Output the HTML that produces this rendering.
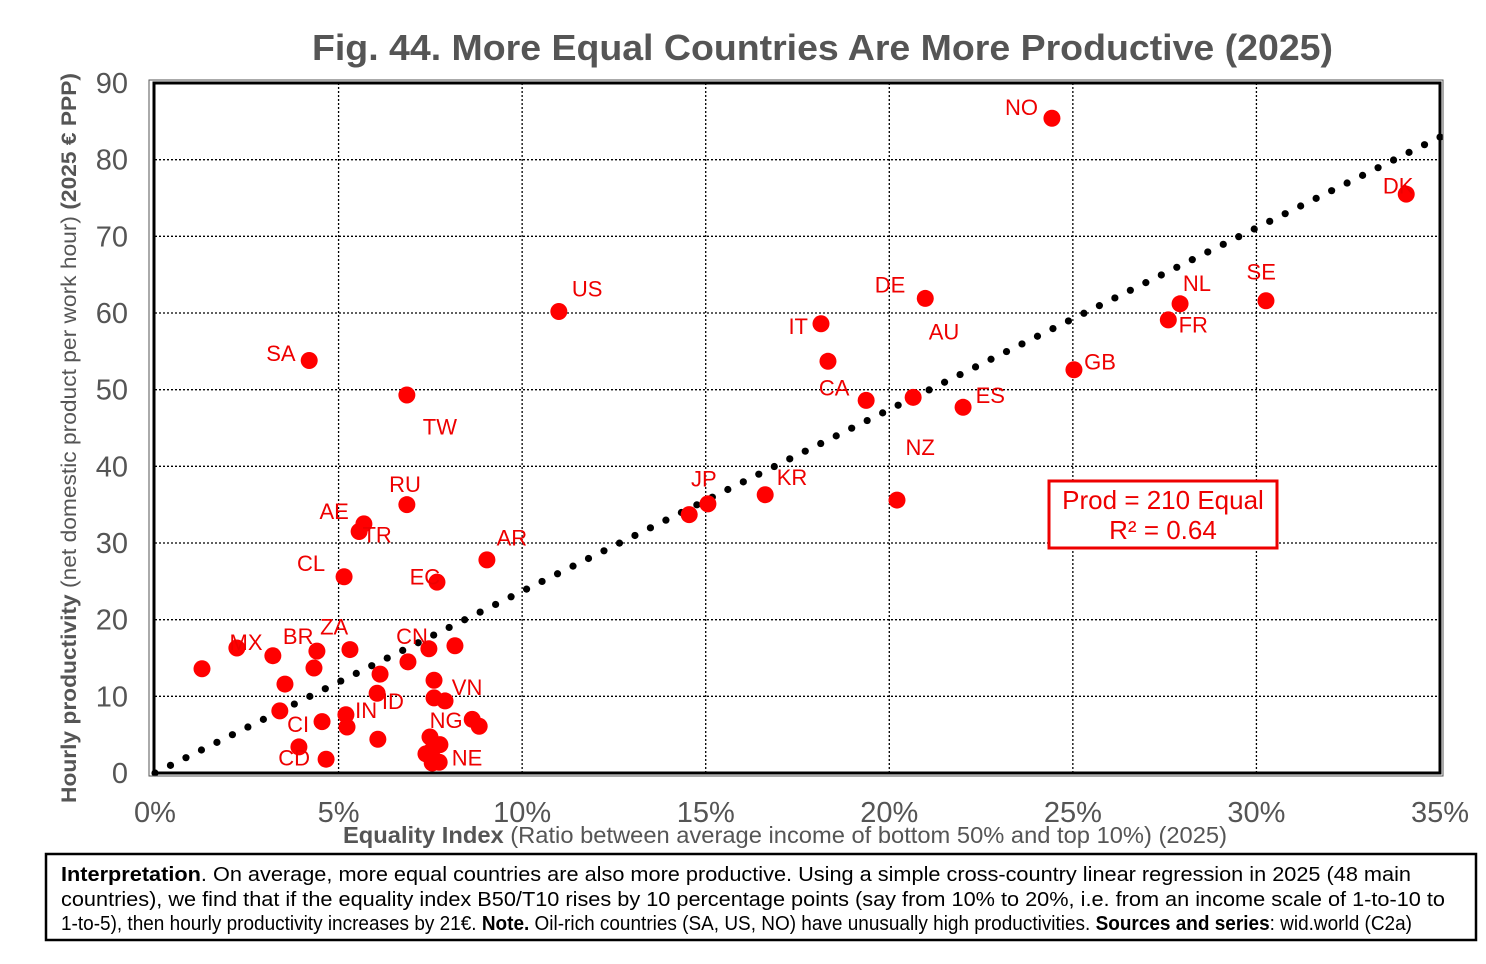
<!DOCTYPE html>
<html><head><meta charset="utf-8"><style>
html,body{margin:0;padding:0;background:#fff;}
svg{display:block;font-family:"Liberation Sans",Arial,sans-serif;}
</style></head><body>
<svg id="chart" width="1486" height="964" viewBox="0 0 1486 964" xmlns="http://www.w3.org/2000/svg">
<text x="312" y="60" font-size="36" font-weight="bold" fill="#555" textLength="1021" lengthAdjust="spacingAndGlyphs">Fig. 44. More Equal Countries Are More Productive (2025)</text>
<g id="grid"></g>
<g id="trend"></g>
<g id="pts"></g>
<g id="lbls"></g>
<rect x="154" y="83" width="1286" height="690" fill="none" stroke="#000" stroke-width="3"/>
<rect x="149" y="80" width="1294" height="696" fill="none" stroke="#555" stroke-width="1"/>
<g id="yt"></g>
<g id="xt"></g>
<text transform="translate(76,438) rotate(-90)" text-anchor="middle" font-size="21" fill="#555" textLength="730" lengthAdjust="spacingAndGlyphs"><tspan font-weight="bold">Hourly productivity</tspan> (net domestic product per work hour) <tspan font-weight="bold">(2025 € PPP)</tspan></text>
<text x="343" y="843" font-size="23" fill="#555" textLength="884" lengthAdjust="spacingAndGlyphs"><tspan font-weight="bold">Equality Index</tspan> (Ratio between average income of bottom 50% and top 10%) (2025)</text>
<g>
<rect x="1049" y="481" width="228" height="67" fill="#fff" stroke="#e00" stroke-width="3"/>
<text x="1163" y="509" text-anchor="middle" font-size="26" fill="#e00">Prod = 210 Equal</text>
<text x="1163" y="539" text-anchor="middle" font-size="26" fill="#e00">R² = 0.64</text>
</g>
<g>
<rect x="46" y="854" width="1430" height="86" fill="#fff" stroke="#000" stroke-width="2.5"/>
<text x="61" y="881" font-size="20" fill="#000" textLength="1350" lengthAdjust="spacingAndGlyphs"><tspan font-weight="bold">Interpretation</tspan>. On average, more equal countries are also more productive. Using a simple cross-country linear regression in 2025 (48 main</text>
<text x="61" y="906" font-size="20" fill="#000" textLength="1384" lengthAdjust="spacingAndGlyphs">countries), we find that if the equality index B50/T10 rises by 10 percentage points (say from 10% to 20%, i.e. from an income scale of 1-to-10 to</text>
<text x="61" y="930" font-size="20" fill="#000" textLength="1351" lengthAdjust="spacingAndGlyphs">1-to-5), then hourly productivity increases by 21€. <tspan font-weight="bold">Note.</tspan> Oil-rich countries (SA, US, NO) have unusually high productivities. <tspan font-weight="bold">Sources and series</tspan>: wid.world (C2a)</text>
</g>
<script>
const xVals=[24.43,34.08,30.26,27.92,27.6,25.03,20.98,20.65,18.14,18.33,19.37,22.01,20.21,16.62,15.06,14.55,11.0,4.2,6.86,6.86,5.69,5.56,9.04,5.15,7.68,1.28,2.23,3.21,4.41,4.33,3.54,3.4,4.55,3.92,4.66,5.31,6.13,6.05,6.89,5.2,5.23,6.07,7.46,8.17,7.6,7.6,7.9,8.64,8.83,7.49,7.76,7.38,7.55,7.55,7.74];
const yVals=[85.4,75.5,61.6,61.2,59.1,52.6,61.9,49.0,58.6,53.7,48.6,47.7,35.6,36.3,35.1,33.7,60.2,53.8,49.3,35.0,32.5,31.5,27.8,25.6,24.9,13.6,16.3,15.3,15.9,13.7,11.6,8.1,6.7,3.4,1.8,16.1,12.9,10.4,14.5,7.6,6.0,4.4,16.2,16.6,12.1,9.8,9.4,7.0,6.1,4.7,3.7,2.5,3.0,1.3,1.4];
const labelCodes=["NO","DK","SE","NL","FR","GB","DE","AU","IT","CA","ES","NZ","KR","JP","US","SA","TW","RU","AE","TR","AR","CL","EC","MX","BR","ZA","CN","VN","ID","IN","NG","CI","CD","NE"];
const labelX=[23.6,33.86,30.13,28.38,28.28,25.74,20.02,21.49,17.52,18.5,22.75,20.84,17.35,14.95,11.77,3.43,7.76,6.81,4.88,6.05,9.72,4.25,7.35,2.48,3.9,4.88,7.0,8.5,6.48,5.75,7.93,3.9,3.79,8.5];
const labelY=[86.9,76.6,65.4,63.9,58.5,53.7,63.7,57.6,58.3,50.3,49.3,42.5,38.6,38.4,63.2,54.8,45.2,37.7,34.2,31.1,30.7,27.4,25.6,17.1,17.9,19.1,17.9,11.2,9.4,8.2,6.9,6.4,2.0,2.0];
const xTicks=[0,5,10,15,20,25,30,35];
const yTicks=[0,10,20,30,40,50,60,70,80,90];
const trendSlope=2.37;
const NS="http://www.w3.org/2000/svg";
const X=v=>155+v*(1440-155)/35;
const Y=v=>773-v*(773-83)/90;
function mk(t,a,p){const e=document.createElementNS(NS,t);for(const k in a)e.setAttribute(k,a[k]);p.appendChild(e);return e;}
const grid=document.getElementById('grid');
yTicks.forEach(t=>{if(t>0&&t<90){const l=mk('line',{x1:155,x2:1440,y1:Y(t),y2:Y(t),stroke:'#000','stroke-width':1.3,'stroke-dasharray':'2,2'},grid);

}
const tx=mk('text',{x:128,y:Y(t)+10,'text-anchor':'end','font-size':29,fill:'#555'},document.getElementById('yt'));tx.textContent=t;

});
xTicks.forEach(t=>{if(t>0&&t<35){const l=mk('line',{x1:X(t),x2:X(t),y1:83,y2:773,stroke:'#000','stroke-width':1.3,'stroke-dasharray':'2,2'},grid);

}
const tx=mk('text',{x:X(t),y:822,'text-anchor':'middle','font-size':29,fill:'#555'},document.getElementById('xt'));tx.textContent=t+'%';

});
const tr=document.getElementById('trend');
const x0=X(0),y0=Y(0),x1=X(35),y1=Y(35*trendSlope);const len=Math.hypot(x1-x0,y1-y0);const n=Math.floor(len/17.2);
for(let i=0;i<=n;i++){const f=i/n;const c=mk('circle',{cx:x0+(x1-x0)*f,cy:y0+(y1-y0)*f,r:3.6,fill:'#000'},tr);

}
const pts=document.getElementById('pts');
xVals.forEach((v,i)=>{const c=mk('circle',{cx:X(v),cy:Y(yVals[i]),r:8.5,fill:'#f00'},pts);

});
const lb=document.getElementById('lbls');
labelCodes.forEach((c,i)=>{const t=mk('text',{x:X(labelX[i]),y:Y(labelY[i])+8,'text-anchor':'middle','font-size':22,fill:'#e00'},lb);t.textContent=c;

});
</script>
</svg>
</body></html>
